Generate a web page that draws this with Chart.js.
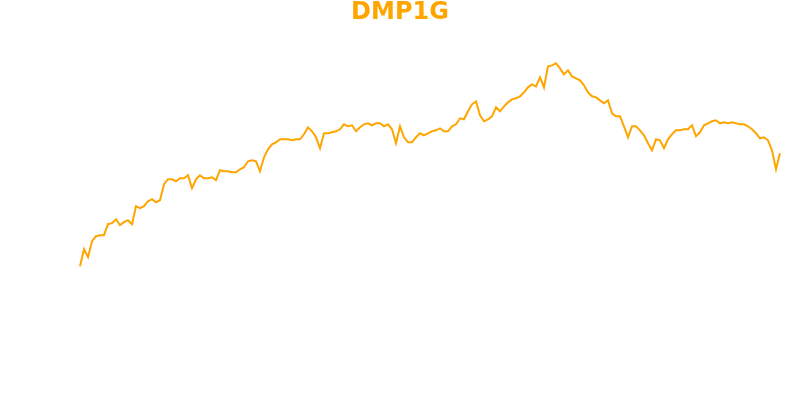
<!DOCTYPE html>
<html>
<head>
<meta charset="utf-8">
<script src="https://cdn.jsdelivr.net/npm/chart.js@4"></script>
<style>
  html, body { margin: 0; padding: 0; background: #fff; }
  #wrap { width: 800px; height: 400px; }
</style>
</head>
<body>
<div id="wrap"><canvas id="chart-dmp1g" width="800" height="400"></canvas></div>
<script>
//data (arbitrary units)
const seriesName = 'DMP1G';
const values = [
    134, 151, 143, 159, 164, 165, 165, 176, 177, 181,
    175, 178, 180, 176, 194, 192, 194, 199, 201, 198,
    200, 216, 221, 221, 219, 222, 222, 225, 212, 221,
    225, 222, 222, 223, 220, 230, 229, 229, 228, 228,
    231, 233, 239, 240, 239, 229, 243, 251, 256, 258,
    261, 261, 261, 260, 261, 261, 266, 273, 269, 263,
    252, 267, 267, 268, 269, 271, 276, 274, 275, 269,
    273, 276, 277, 275, 277, 277, 274, 276, 271, 257,
    274, 263, 258, 258, 263, 267, 265, 267, 269, 270,
    272, 269, 269, 274, 276, 282, 281, 289, 296, 299,
    285, 279, 281, 284, 293, 289, 294, 298, 301, 302,
    304, 308, 313, 316, 314, 323, 313, 334, 335, 337,
    332, 326, 330, 324, 322, 320, 315, 308, 304, 303,
    300, 297, 300, 287, 284, 284, 274, 263, 274, 274,
    270, 265, 257, 250, 261, 260, 252, 261, 266, 270,
    270, 271, 271, 275, 264, 268, 275, 277, 279, 280,
    277, 278, 277, 278, 277, 276, 276, 274, 271, 267,
    262, 263, 260, 250, 231, 247
];
// day numbers 1..n
const labels = values.map((v, i) => i + 1);

const ORANGE = 'rgb(255, 165, 0)';

//config
const config_line = {
    type: 'line',
    data: {
        labels: labels,
        datasets: [{
            label: seriesName,
            data: values,
            borderColor: ORANGE,
            backgroundColor: ORANGE,
            borderWidth: 2,
            pointRadius: 0,
            tension: 0,
            fill: false
        }]
    },
    options: {
        responsive: false,
        animation: false,
        devicePixelRatio: 1,
        layout: {
            padding: 0
        },
        scales: {
            // empty margin left of the first day and right of the last one
            x: { type: 'linear', display: false, min: -19, max: 181 },
            y: { display: false, min: 0, max: 366 }
        },
        plugins: {
            legend: { display: false },
            tooltip: { enabled: false },
            title: {
                display: true,
                text: seriesName,
                color: ORANGE,
                font: { family: 'DejaVu Sans', size: 24, weight: 'bold', lineHeight: 1.1 },
                padding: { top: 0, bottom: 8 }
            }
        }
    }
};

//render
var lineChart = new Chart(
    document.getElementById('chart-dmp1g'),
    config_line
);
</script>
</body>
</html>
